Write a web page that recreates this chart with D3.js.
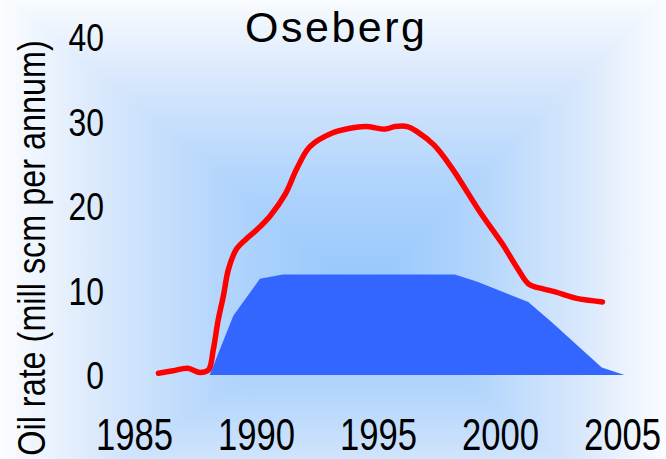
<!DOCTYPE html>
<html>
<head>
<meta charset="utf-8">
<style>
  body { margin: 0; background: #fff; }
  svg { display: block; }
  .tick text { font-family: "Liberation Sans", Arial, sans-serif; fill: #000; }
</style>
<title>Oseberg</title>
</head>
<body>
<script src="https://cdn.jsdelivr.net/npm/d3@7"></script>
<script>

// produced oil rate (red line)
var oilYears = [1986.0, 1986.6, 1987.2, 1987.7, 1988.05, 1988.25, 1988.45, 1988.66, 1988.87, 1989.2,
                1989.6, 1990.0, 1990.57, 1991.2, 1991.67, 1992.2, 1993.1, 1993.85, 1994.5, 1995.3,
                1995.7, 1996.2, 1996.6, 1997.3, 1998.0, 1999.2, 2000.1, 2000.7, 2001.2, 2001.77,
                2002.3, 2003.1, 2004.2];
var oilRate  = [0.2, 0.5, 0.8, 0.3, 0.6, 3.0, 6.5, 9.3, 12.5, 14.9,
                16.1, 17.1, 18.8, 21.4, 24.4, 27.0, 28.6, 29.2, 29.4, 29.1,
                29.4, 29.4, 28.8, 27.2, 24.6, 19.2, 15.5, 12.7, 10.7, 10.2,
                9.8, 9.1, 8.65];

// blue area
var planYears = [1988.1, 1989.07, 1990.16, 1991.1, 1998.15, 1999.1, 2001.16, 2002.1, 2004.17, 2005.1];
var planRate  = [0, 7.0, 11.4, 11.9, 11.9, 11.0, 8.65, 6.3, 0.9, 0];

var xTicks = [1985, 1990, 1995, 2000, 2005];
var yTicks = [0, 10, 20, 30, 40];

var W = 666, H = 459;

var svg = d3.select("body").append("svg")
    .attr("width", W)
    .attr("height", H);

var defs = svg.append("defs");

// rectangular "from centre" background glow, built from four triangles
var cx = 362, cy = 290;
var box = {left: -10, right: 676, top: -15, bottom: 560};
var stops = [[0, "#94c6fd"], [0.35, "#b0d4fc"], [0.7, "#d9e8fc"], [1, "#ffffff"]];
var sides = [
  {id: "gTop",    x2: cx, y2: box.top,    pts: [[box.left, box.top], [box.right, box.top], [cx, cy]]},
  {id: "gBottom", x2: cx, y2: box.bottom, pts: [[box.left, box.bottom], [box.right, box.bottom], [cx, cy]]},
  {id: "gLeft",   x2: box.left, y2: cy,   pts: [[box.left, box.top], [box.left, box.bottom], [cx, cy]]},
  {id: "gRight",  x2: box.right, y2: cy,  pts: [[box.right, box.top], [box.right, box.bottom], [cx, cy]]}
];
sides.forEach(function(s) {
  var g = defs.append("linearGradient")
      .attr("id", s.id)
      .attr("gradientUnits", "userSpaceOnUse")
      .attr("x1", cx).attr("y1", cy)
      .attr("x2", s.x2).attr("y2", s.y2);
  stops.forEach(function(st) {
    g.append("stop").attr("offset", st[0]).attr("stop-color", st[1]);
  });
  svg.append("polygon")
      .attr("points", s.pts.map(function(p) { return p.join(","); }).join(" "))
      .attr("fill", "url(#" + s.id + ")")
      .attr("stroke", "url(#" + s.id + ")")
      .attr("stroke-width", 1);
});

var x = d3.scaleLinear()
    .domain([1985, 2005])
    .range([134, 622]);

var y = d3.scaleLinear()
    .domain([0, 40])
    .range([375, 37]);

var plan = planYears.map(function(d, i) { return {year: d, rate: planRate[i]}; });
var oil = oilYears.map(function(d, i) { return {year: d, rate: oilRate[i]}; });

svg.append("path")
    .datum(plan)
    .attr("fill", "#3366ff")
    .attr("d", d3.area()
      .x(function(d) { return x(d.year); })
      .y0(y(0))
      .y1(function(d) { return y(d.rate); }));

svg.append("path")
    .datum(oil)
    .attr("fill", "none")
    .attr("stroke", "#ff0000")
    .attr("stroke-width", 5.5)
    .attr("stroke-linecap", "round")
    .attr("stroke-linejoin", "round")
    .attr("d", d3.line()
      .curve(d3.curveCatmullRom.alpha(0.5))
      .x(function(d) { return x(d.year); })
      .y(function(d) { return y(d.rate); }));

// axes, labels only (narrowed glyphs)
var yAxis = svg.append("g")
    .attr("transform", "translate(104,0)")
    .call(d3.axisLeft(y).tickValues(yTicks).tickSize(0).tickPadding(0));
yAxis.select(".domain").remove();
yAxis.selectAll("text")
    .attr("font-size", 38)
    .attr("dy", "0.36em")
    .attr("transform", "scale(0.84,1)");

var xAxis = svg.append("g")
    .attr("transform", "translate(0,418)")
    .call(d3.axisBottom(x).tickValues(xTicks).tickFormat(d3.format("d")).tickSize(0).tickPadding(0));
xAxis.select(".domain").remove();
xAxis.selectAll("text")
    .attr("font-size", 45)
    .attr("dy", "0.71em")
    .attr("transform", "scale(0.77,1)");

svg.append("text")
    .attr("x", 335)
    .attr("y", 42)
    .attr("text-anchor", "middle")
    .attr("font-family", "Liberation Sans, Arial, sans-serif")
    .attr("font-size", 43)
    .attr("textLength", 180)
    .attr("lengthAdjust", "spacing")
    .text("Oseberg");

svg.append("text")
    .attr("transform", "translate(45,248) rotate(-90) scale(0.83,1)")
    .attr("text-anchor", "middle")
    .attr("font-family", "Liberation Sans, Arial, sans-serif")
    .attr("font-size", 39)
    .text("Oil rate (mill scm per annum)");

</script>
</body>
</html>
